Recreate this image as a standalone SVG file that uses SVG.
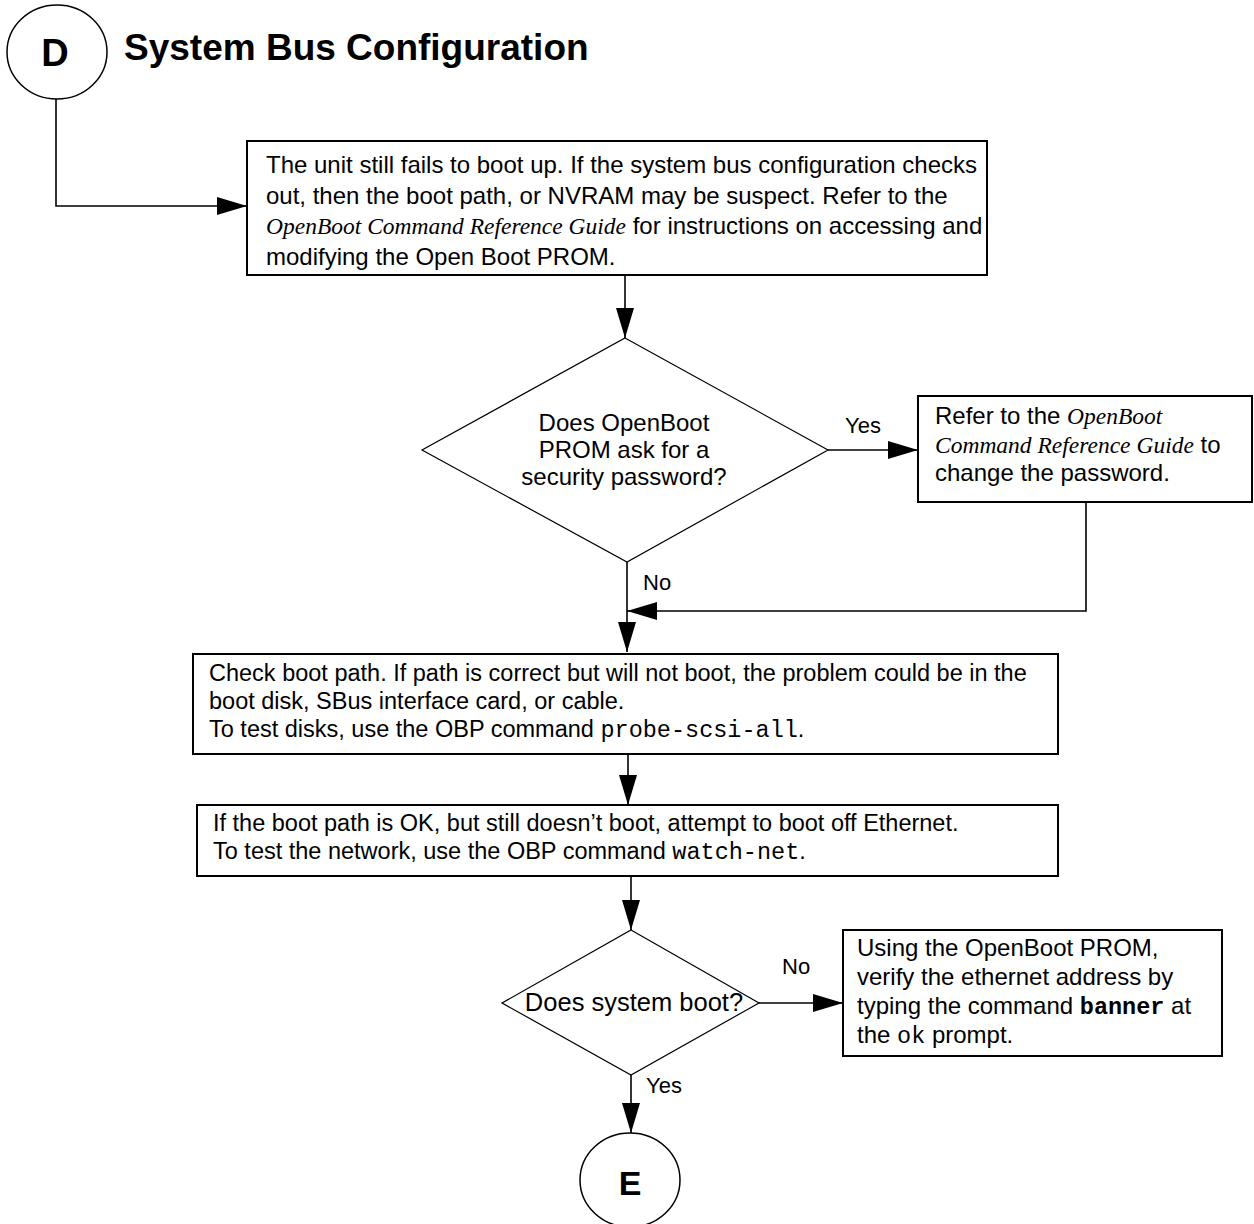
<svg xmlns="http://www.w3.org/2000/svg" width="1254" height="1224" viewBox="0 0 1254 1224">
<defs>
<marker id="arr" markerUnits="userSpaceOnUse" markerWidth="30" markerHeight="18" refX="30" refY="9" orient="auto">
<path d="M0,0 L30,9 L0,18 z" fill="#000"/>
</marker>
<style>
.box{fill:#fff;stroke:#000;stroke-width:2}
.dia{fill:#fff;stroke:#000;stroke-width:1.2}
.circ{fill:#fff;stroke:#000;stroke-width:1.5}
.conn{fill:none;stroke:#000;stroke-width:1.6;marker-end:url(#arr)}
.t{font-family:"Liberation Sans",Arial,Helvetica,sans-serif;font-size:24px;fill:#000}
.s{font-size:23.5px}
.q{font-size:25.5px}
.lbl{font-family:"Liberation Sans",Arial,Helvetica,sans-serif;font-size:22px;fill:#000}
.c{text-anchor:middle}
.i{font-family:"Liberation Serif","Times New Roman",serif;font-style:italic;font-size:23.5px}
.m{font-family:"Liberation Mono","Courier New",monospace;font-size:23.5px}
.mb{font-family:"Liberation Mono","Courier New",monospace;font-size:23.5px;font-weight:bold}
.big{font-family:"Liberation Sans",Arial,Helvetica,sans-serif;font-weight:bold;fill:#000}
</style>
</defs>
<rect width="1254" height="1224" fill="#fff"/>

<text class="big" x="124" y="60" font-size="37">System Bus Configuration</text>

<g id="connectors">
<path class="conn" d="M56,99 V206 H247"/>
<path class="conn" d="M625,275 V338"/>
<path class="conn" d="M828,450 H918"/>
<path class="conn" d="M1086,502 V611 H627"/>
<path class="conn" d="M627,562 V652"/>
<path class="conn" d="M628,754 V805"/>
<path class="conn" d="M631,876 V930"/>
<path class="conn" d="M759,1003 H843"/>
<path class="conn" d="M631,1075 V1133"/>
<text class="lbl" x="845" y="433">Yes</text>
<text class="lbl" x="643" y="590">No</text>
<text class="lbl" x="782" y="974">No</text>
<text class="lbl" x="646" y="1093">Yes</text>
</g>

<g id="nodeD">
<ellipse class="circ" cx="57" cy="52" rx="50" ry="47"/>
<text class="big c" x="55" y="66" font-size="38">D</text>
</g>

<g id="box1">
<rect class="box" x="247" y="141" width="740" height="134"/>
<text class="t" x="266" y="173">The unit still fails to boot up. If the system bus configuration checks</text>
<text class="t" x="266" y="204">out, then the boot path, or NVRAM may be suspect. Refer to the</text>
<text class="t" x="266" y="234"><tspan class="i">OpenBoot Command Reference Guide</tspan> for instructions on accessing and</text>
<text class="t" x="266" y="265">modifying the Open Boot PROM.</text>
</g>

<g id="decision1">
<polygon class="dia" points="625,338 828,450 627,562 422,450"/>
<text class="t c" x="624" y="431">Does OpenBoot</text>
<text class="t c" x="624" y="458">PROM ask for a</text>
<text class="t c" x="624" y="485">security password?</text>
</g>

<g id="box2">
<rect class="box" x="918" y="396" width="334" height="106"/>
<text class="t" x="935" y="424">Refer to the <tspan class="i">OpenBoot</tspan></text>
<text class="t" x="935" y="453"><tspan class="i">Command Reference Guide</tspan> to</text>
<text class="t" x="935" y="481">change the password.</text>
</g>

<g id="box3">
<rect class="box" x="193" y="654" width="865" height="100"/>
<text class="t s" x="209" y="681">Check boot path. If path is correct but will not boot, the problem could be in the</text>
<text class="t s" x="209" y="709">boot disk, SBus interface card, or cable.</text>
<text class="t s" x="209" y="737">To test disks, use the OBP command <tspan class="m">probe-scsi-all</tspan>.</text>
</g>

<g id="box4">
<rect class="box" x="197" y="805" width="861" height="71"/>
<text class="t s" x="213" y="831">If the boot path is OK, but still doesn’t boot, attempt to boot off Ethernet.</text>
<text class="t s" x="213" y="859">To test the network, use the OBP command <tspan class="m">watch-net</tspan>.</text>
</g>

<g id="decision2">
<polygon class="dia" points="631,930 759,1003 631,1075 502,1003"/>
<text class="t c q" x="634" y="1011">Does system boot?</text>
</g>

<g id="box5">
<rect class="box" x="843" y="930" width="379" height="126"/>
<text class="t" x="857" y="956">Using the OpenBoot PROM,</text>
<text class="t" x="857" y="985">verify the ethernet address by</text>
<text class="t" x="857" y="1014">typing the command <tspan class="mb">banner</tspan> at</text>
<text class="t" x="857" y="1043">the <tspan class="m">ok</tspan> prompt.</text>
</g>

<g id="nodeE">
<ellipse class="circ" cx="630" cy="1180" rx="50" ry="47"/>
<text class="big c" x="630" y="1195" font-size="34">E</text>
</g>
</svg>
